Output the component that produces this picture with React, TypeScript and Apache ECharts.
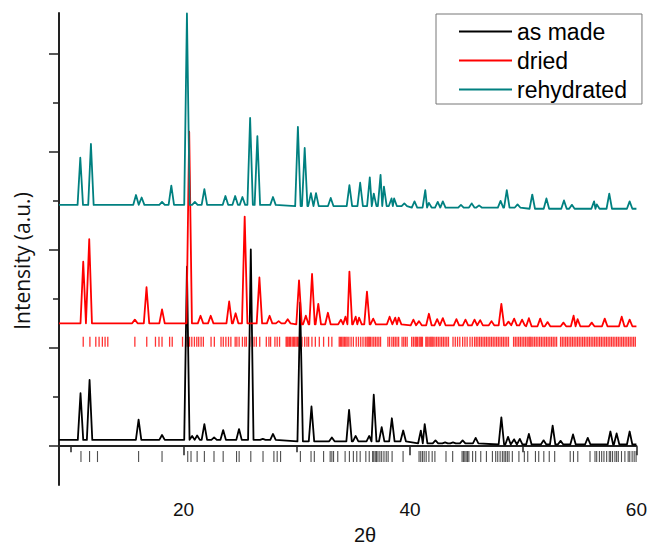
import { useEffect, useRef } from "react";
import * as echarts from "echarts";

// ---------- data (2θ in degrees, intensity in arbitrary counts, traces stacked) ----------
const seriesNames = ["as made", "dried", "rehydrated"];
const seriesColors = ["#000000", "#ff0000", "#008080"];

// baseline levels: [from 2θ, level]
const blackBase: [number, number][] = [[9, 130], [30, 100], [40, 60], [47, 35]];
const redBase: [number, number][] = [[9, 2505], [30, 2485], [40, 2465], [50, 2445]];
const tealBase: [number, number][] = [[9, 4920], [30, 4895], [40, 4865], [50, 4840]];

// peaks: [2θ, top]
const blackPeaks: [number, number][] = [
  [10.9, 1080], [11.7, 1350], [16.03, 540], [18.1, 230], [20.3, 3660], [20.76, 210], [21.2, 220],
  [21.84, 450], [22.7, 180], [23.5, 330], [24.9, 350], [25.94, 4010], [27.0, 150], [27.9, 250],
  [30.3, 2930], [31.3, 810], [33.1, 180], [34.62, 740], [35.2, 210], [36.4, 210], [36.8, 1050],
  [37.5, 390], [38.4, 570], [39.4, 320], [40.96, 320], [41.3, 450], [42.25, 120], [43.1, 80],
  [43.8, 80], [44.65, 120], [45.8, 170], [48.07, 590], [48.66, 190], [49.2, 140], [49.7, 150],
  [50.5, 250], [51.8, 120], [52.6, 420], [53.3, 110], [54.4, 240], [55.7, 170], [57.7, 300],
  [58.25, 260], [59.4, 300],
];
const redPeaks: [number, number][] = [
  [11.14, 3760], [11.67, 4220], [15.7, 2580], [16.73, 3240], [18.1, 2790], [20.5, 6410], [21.5, 2660],
  [22.4, 2660], [24.03, 2950], [24.6, 2710], [25.4, 4680], [26.7, 3440], [27.6, 2660], [28.4, 2550],
  [29.2, 2590], [30.2, 3380], [30.8, 2660], [31.35, 3510], [31.9, 2900], [32.75, 2720], [33.9, 2580],
  [34.3, 2640], [34.65, 3560], [35.2, 2640], [35.5, 2620], [36.2, 3150], [36.75, 2600], [38.2, 2640],
  [38.7, 2620], [39.0, 2620], [40.3, 2580], [40.8, 2550], [41.67, 2700], [42.4, 2590], [42.9, 2610],
  [44.1, 2590], [44.9, 2580], [45.7, 2580], [46.2, 2570], [47.2, 2550], [48.07, 2900], [48.7, 2540],
  [49.2, 2600], [49.9, 2580], [50.5, 2610], [51.5, 2600], [52.15, 2530], [53.55, 2520], [54.45, 2660],
  [54.8, 2590], [56.05, 2520], [57.2, 2600], [58.7, 2640], [59.4, 2580],
];
const tealPeaks: [number, number][] = [
  [10.88, 5880], [11.82, 6160], [15.8, 5120], [16.3, 5070], [18.1, 4980], [18.92, 5310], [20.3, 8820],
  [21.0, 4980], [21.84, 5240], [23.7, 5100], [24.56, 5100], [25.2, 5080], [25.88, 6690], [26.52, 6320],
  [27.9, 5080], [30.1, 6510], [30.7, 6080], [31.25, 5160], [31.7, 5160], [33.0, 5060], [34.65, 5320],
  [35.6, 5370], [36.45, 5480], [36.8, 5150], [37.4, 5530], [37.7, 5290], [38.37, 5050], [38.6, 5050],
  [39.5, 4950], [40.4, 4990], [41.35, 5220], [41.67, 4960], [42.45, 4980], [42.9, 4990], [44.5, 4920],
  [45.45, 4950], [46.1, 4910], [48.0, 5000], [48.55, 5220], [49.5, 4930], [50.8, 5130], [52.05, 5050],
  [53.6, 5010], [54.3, 4920], [56.26, 4990], [56.5, 4930], [57.6, 5150], [59.4, 4990],
];

// reflection markers (2θ)
const blackTicks = [
  10.94, 11.7, 12.4, 16.03, 18.1, 20.37, 20.66, 21.2, 21.84, 22.69, 23.5, 24.68, 24.91, 25.94, 27.02,
  27.98, 28.27, 28.57, 30.32, 31.26, 31.55, 32.37, 32.95, 33.1, 33.25, 33.62, 34.27, 34.65, 35.0, 35.3,
  35.6, 36.1, 36.4, 36.7, 36.8, 36.93, 37.04, 37.17, 37.34, 37.5, 37.7, 37.9, 38.07, 38.42, 39.39,
  40.8, 40.95, 41.1, 41.25, 41.43, 41.67, 41.96, 42.2, 43.18, 43.77, 44.6, 44.72, 44.84, 44.96, 45.08,
  45.2, 45.53, 45.8, 46.25, 46.75, 47.28, 47.57, 47.75, 47.96, 48.16, 48.31, 48.45, 48.6, 48.75, 49.04,
  49.62, 50.1, 50.4, 51.08, 51.37, 51.82, 52.3, 52.78, 54.15, 54.44, 54.82, 55.9, 56.34, 56.49, 56.73,
  56.93, 57.13, 57.37, 57.6, 57.72, 57.89, 58.1, 58.25, 58.4, 58.68, 58.98, 59.27, 59.41, 59.62, 59.8,
  59.97,
];
const redTicks = [
  11.14, 11.73, 12.25, 12.54, 12.83, 13.07, 13.31, 15.7, 16.75, 17.52, 17.83, 18.1, 18.77, 19.0, 19.91,
  20.32, 20.53, 20.73, 20.96, 21.17, 21.34, 21.55, 21.75, 22.43, 22.72, 23.31, 23.51, 23.74, 23.97,
  24.18, 24.56, 24.71, 24.91, 25.2, 25.41, 25.55, 25.85, 26.23, 26.43, 26.73, 27.31, 27.54, 27.69, 28.07,
  28.27, 28.48, 29.06, 29.15, 29.24, 29.36, 29.45, 29.59, 29.71, 29.82, 29.94, 30.06, 30.18, 30.46,
  30.7, 30.9, 31.05, 31.34, 31.64, 31.99, 32.37, 32.81, 33.1, 33.75, 33.86, 33.97, 34.09, 34.21, 34.33,
  34.45, 34.6, 34.8, 35.0, 35.25, 35.45, 35.65, 35.85, 36.05, 36.2, 36.3, 36.4, 36.5, 36.65, 36.8,
  36.95, 37.1, 37.25, 37.4, 38.05, 38.2, 38.4, 38.55, 38.7, 38.85, 39.0, 39.3, 39.45, 39.6, 39.75,
  40.15, 40.3, 40.45, 40.55, 40.65, 40.8, 40.9, 41.0, 41.1, 41.4, 41.5, 41.6, 41.75, 41.85, 41.95,
  42.05, 42.2, 42.35, 42.5, 42.65, 42.8, 42.95, 43.1, 43.25, 43.4, 43.8, 44.0, 44.2, 44.4, 44.65,
  44.85, 45.05, 45.3, 45.5, 45.7, 45.85, 46.0, 46.15, 46.3, 46.45, 46.6, 46.75, 46.9, 47.05, 47.2,
  47.35, 47.5, 47.65, 47.8, 47.95, 48.1, 48.25, 48.4, 48.55, 48.7, 49.15, 49.3, 49.45, 49.6, 49.75,
  49.9, 50.05, 50.2, 50.35, 50.5, 50.6, 50.7, 50.85, 51.0, 51.15, 51.3, 51.45, 51.6, 51.75, 51.9,
  52.05, 52.2, 52.35, 52.5, 52.65, 52.8, 52.95, 53.3, 53.45, 53.6, 53.75, 53.9, 54.05, 54.2, 54.35,
  54.5, 54.65, 54.8, 54.95, 55.1, 55.25, 55.4, 55.55, 55.7, 55.85, 56.0, 56.15, 56.3, 56.45, 56.6,
  56.75, 56.9, 57.05, 57.2, 57.35, 57.5, 57.65, 57.8, 57.95, 58.1, 58.25, 58.4, 58.55, 58.7, 58.85,
  59.0, 59.15, 59.3, 59.45, 59.6, 59.75, 59.9,
];
const blackTickLevel = -210;
const redTickLevel = 2130;

const xMajorTicks = [20, 40, 60];
const xMinorTicks = [10, 30, 50];
const yMajorTicks = [0, 2000, 4000, 6000, 8000];
const yMinorTicks = [1000, 3000, 5000, 7000];
const X_MIN = 9;
const X_MAX = 60;
const Y_MIN = -790;
const Y_MAX = 8830;

// ---------- build polyline from read peaks ----------
function baseAt(bases: [number, number][], x: number) {
  let b = bases[0][1];
  for (const [bx, bv] of bases) if (x >= bx) b = bv;
  return b;
}
function buildLine(peaks: [number, number][], bases: [number, number][]) {
  const w = 0.24;
  const pts: [number, number][] = [[X_MIN, bases[0][1]]];
  let lastWasFoot = false;
  let lastPeakX = X_MIN;
  for (const [x, top] of peaks) {
    const b = baseAt(bases, x);
    const last = pts[pts.length - 1];
    if (x - w <= last[0]) {
      if (lastWasFoot) pts[pts.length - 1] = [(lastPeakX + x) / 2, b];
    } else {
      pts.push([x - w, b]);
    }
    pts.push([x, top]);
    pts.push([x + w, b]);
    lastWasFoot = true;
    lastPeakX = x;
  }
  pts.push([X_MAX, bases[bases.length - 1][1]]);
  return pts;
}

const FONT = "'Liberation Sans', Arial, sans-serif";
const axisLineStyle = { color: "#222", width: 2 };

export default function App() {
  const ref = useRef<HTMLDivElement>(null);
  useEffect(() => {
    const chart = echarts.init(ref.current!, null, { renderer: "svg" });
    const lines = [
      buildLine(blackPeaks, blackBase),
      buildLine(redPeaks, redBase),
      buildLine(tealPeaks, tealBase),
    ];
    const option: any = {
      animation: false,
      grid: { left: 59, right: 10, top: 13, bottom: 61 },
      xAxis: [
        {
          type: "value", min: X_MIN, max: X_MAX, position: "bottom",
          axisLine: { show: true, lineStyle: axisLineStyle },
          axisTick: { show: true, customValues: xMajorTicks, length: 9, lineStyle: { color: "#222", width: 1.5 } },
          axisLabel: { customValues: xMajorTicks, margin: 15, fontSize: 19, fontFamily: FONT, color: "#111" },
          splitLine: { show: false },
        },
        {
          type: "value", min: X_MIN, max: X_MAX, position: "bottom", offset: 0,
          axisLine: { show: false },
          axisTick: { show: true, customValues: xMinorTicks, length: 6, lineStyle: { color: "#222", width: 1.5 } },
          axisLabel: { show: false },
          splitLine: { show: false },
        },
      ],
      yAxis: [
        {
          type: "value", min: Y_MIN, max: Y_MAX, position: "left",
          axisLine: { show: true, lineStyle: axisLineStyle },
          axisTick: { show: true, customValues: yMajorTicks, length: 10, lineStyle: { color: "#222", width: 1.5 } },
          axisLabel: { show: false },
          splitLine: { show: false },
        },
        {
          type: "value", min: Y_MIN, max: Y_MAX, position: "left", offset: 0,
          axisLine: { show: false },
          axisTick: { show: true, customValues: yMinorTicks, length: 6, lineStyle: { color: "#222", width: 1.5 } },
          axisLabel: { show: false },
          splitLine: { show: false },
        },
      ],
      legend: {
        data: seriesNames,
        orient: "vertical",
        left: 436,
        top: 14,
        padding: [3, 15, 0, 23],
        itemGap: 0,
        itemWidth: 53,
        itemHeight: 2,
        icon: "rect",
        borderColor: "#777",
        borderWidth: 1,
        borderRadius: 0,
        selectedMode: false,
        textStyle: { fontSize: 23, fontFamily: FONT, color: "#000", lineHeight: 29 },
      },
      graphic: [
        {
          type: "text", x: 22, y: 261, rotation: Math.PI / 2,
          style: {
            text: "Intensity (a.u.)", font: "21px 'Open Sans', sans-serif", fill: "#111",
            textAlign: "center", textVerticalAlign: "middle", align: "center", verticalAlign: "middle",
          },
        },
        {
          type: "text", x: 365, y: 545,
          style: {
            text: "2θ", font: `20px ${FONT}`, fill: "#111",
            textAlign: "center", textVerticalAlign: "bottom", align: "center", verticalAlign: "bottom",
          },
        },
      ],
      series: [
        {
          type: "scatter", name: "as made ticks", data: blackTicks.map((x) => [x, blackTickLevel]),
          symbol: "rect", symbolSize: [1.1, 11], itemStyle: { color: "#222" }, silent: true,
        },
        {
          type: "scatter", name: "dried ticks", data: redTicks.map((x) => [x, redTickLevel]),
          symbol: "rect", symbolSize: [1.3, 10], itemStyle: { color: "#ff0000" }, silent: true,
        },
        ...seriesNames.map((name, i) => ({
          type: "line", name, data: lines[i], showSymbol: false, symbol: "none",
          color: seriesColors[i],
          lineStyle: { color: seriesColors[i], width: 1.8, join: "round" },
          silent: true,
        })),
      ],
    };
    chart.setOption(option);
    return () => chart.dispose();
  }, []);
  return <div ref={ref} style={{ position: "absolute", left: 0, top: 0, width: 650, height: 546 }} />;
}
